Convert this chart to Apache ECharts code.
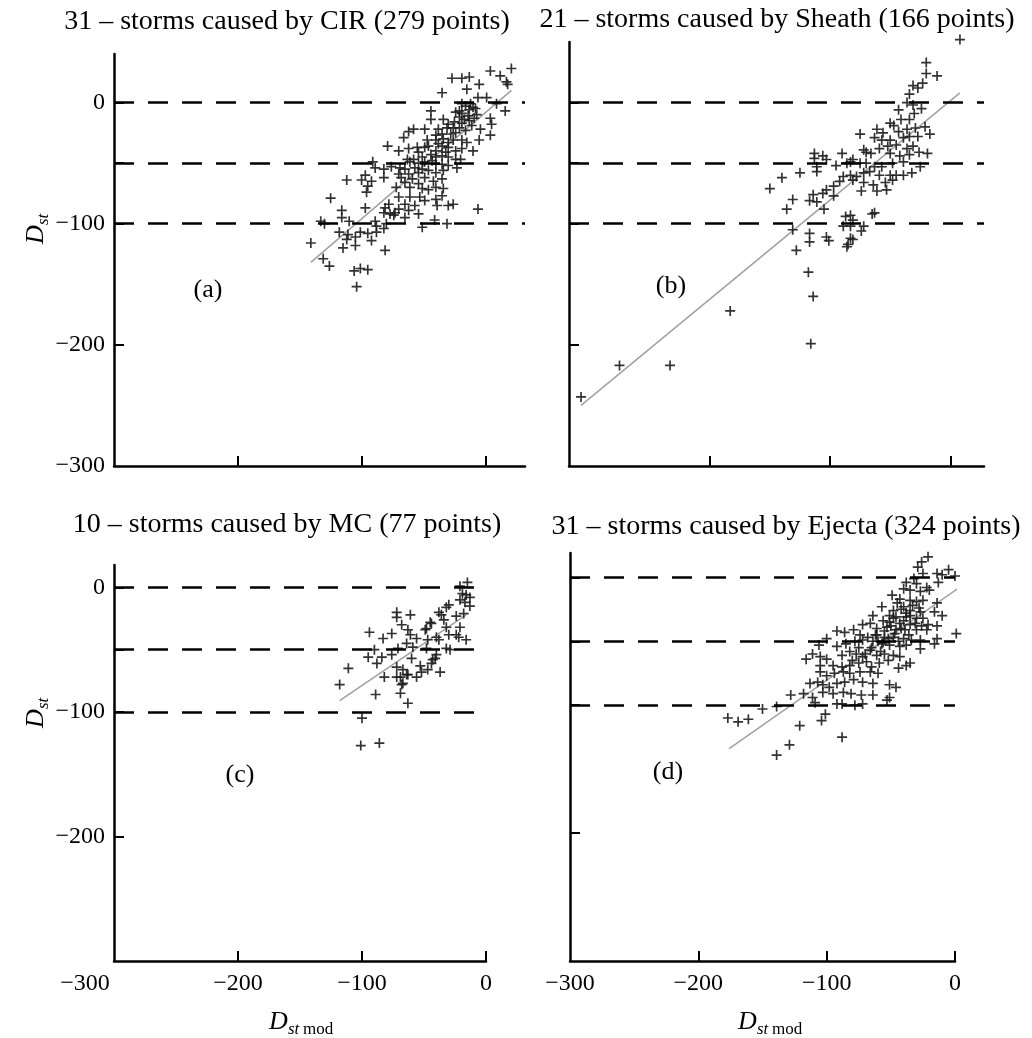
<!DOCTYPE html>
<html><head><meta charset="utf-8">
<script src="https://cdn.jsdelivr.net/npm/echarts@6/dist/echarts.min.js"></script>
<style>html,body{margin:0;padding:0;background:#fff}#c{width:1032px;height:1038px}</style>
</head><body><div id="c"></div>
<script>
// ---------- data ----------
const panelTitles = [
  '31 \u2013 storms caused by CIR (279 points)',
  '21 \u2013 storms caused by Sheath (166 points)',
  '10 \u2013 storms caused by MC (77 points)',
  '31 \u2013 storms caused by Ejecta (324 points)'
];
const panelLetters = ['(a)', '(b)', '(c)', '(d)'];
const xTickLabels = [-300, -200, -100, 0];
const xTickValues = [-200, -100, 0];
const yTickLabels = [0, -100, -200, -300];
const yTickValues = [0, -50, -100, -200];
const refLevels = [0, -50, -100];

const cirPoints = [
[21,28],[4,26],[12,22],[-27,20],[-19,20],[-13,21],[17,17],[18,15],[-5,15],[-15,11],[-35,8],
[-6,4],[1,4],[9,-1],[-12,-1],[-19,-1],[-16,-3],[-10,-4],[-8,-5],[-13,-6],[-21,-7],[16,-7],[-44,-7],[-24,-8],[-19,-9],[-14,-11],[-7,-10],
[-34,-14],[-44,-14],[-21,-12],[-17,-14],[-13,-15],[-9,-13],[4,-13],[-25,-16],[-19,-17],[-30,-18],[-26,-21],[-31,-21],[-11,-19],[-4,-22],[5,-18],[-38,-22],[-49,-22],[-58,-22],[-62,-24],[-21,-21],[-16,-23],[-24,-25],[-28,-26],[-35,-26],[-40,-27],
[4,-27],[-66,-29],[-34,-30],[-40,-31],[-47,-31],[-26,-31],[-19,-31],[-5,-31],[-15,-33],[-30,-33],[-38,-34],[-46,-36],[-35,-36],[-30,-37],[-55,-37],[-62,-38],[-70,-40],[-79,-36],[-49,-37],[-10,-40],[-40,-40],[-32,-41],[-24,-40],[-19,-38],[-54,-41],[-44,-43],
[-35,-44],[-40,-45],[-51,-45],[-58,-47],[-63,-47],[-30,-45],[-24,-47],[-20,-47],[-43,-48],[-49,-49],[-54,-50],[-61,-49],[-40,-51],[-35,-51],[-30,-52],[-23,-54],[-91,-49],[-89,-54],[-82,-55],[-76,-53],[-69,-54],[-65,-55],[-57,-54],[-51,-55],[-46,-56],[-40,-58],[-34,-56],[-70,-59],[-62,-59],[-54,-58],
[-97,-60],[-112,-64],[-100,-64],[-92,-65],[-95,-69],[-82,-62],[-68,-62],[-59,-63],[-49,-62],[-42,-65],[-35,-63],[-54,-67],[-61,-70],[-65,-66],[-72,-70],[-51,-71],[-46,-72],[-96,-74],[-34,-71],[-40,-70],
[-125,-79],[-70,-78],[-61,-78],[-53,-78],[-35,-77],[-49,-81],[-40,-80],[-78,-84],[-65,-84],[-57,-85],[-81,-87],[-116,-89],[-97,-87],[-39,-85],[-30,-85],[-26,-84],[-6,-88],[-70,-88],[-62,-89],[-54,-92],[-73,-91],[-82,-91],[-77,-92],
[-116,-95],[-74,-93],[-133,-98],[-130,-100],[-110,-98],[-89,-98],[-80,-100],[-65,-95],[-41,-97],[-31,-100],[-51,-103],[-88,-102],
[-118,-107],[-111,-109],[-101,-107],[-95,-108],[-88,-107],[-82,-104],[-105,-111],[-112,-113],[-92,-114],[-141,-116],[-115,-120],[-105,-118],[-81,-122],
[-131,-129],[-126,-135],[-106,-139],[-101,-137],[-95,-138],[-104,-152]
];
const cirFit = [[-141,-132],[21,10]];

const sheathPoints = [
[8,52],[-20,33],[-20,24],[-11,22],[-23,16],[-31,14],[-27,12],[-34,7],[-36,0],[-31,-2],[-24,-5],[-30,-9],[-43,-6],[-41,-14],[-34,-14],
[-50,-17],[-47,-19],[-21,-20],[-29,-21],[-36,-22],[-43,-24],[-61,-22],[-56,-25],[-75,-26],[-17,-26],[-27,-28],[-34,-28],[-39,-29],[-50,-31],[-57,-31],[-63,-29],
[-45,-35],[-52,-36],[-31,-36],[-36,-38],[-59,-38],[-19,-42],[-26,-41],[-34,-43],[-42,-44],[-50,-42],[-72,-39],[-66,-42],[-70,-41],
[-113,-42],[-106,-44],[-90,-42],[-113,-46],[-103,-47],[-81,-47],[-83,-49],[-75,-50],[-70,-50],[-63,-53],[-57,-53],[-48,-50],[-39,-49],[-25,-53],[-111,-53],[-111,-57],[-95,-52],[-86,-50],
[-125,-58],[-140,-62],[-89,-61],[-83,-60],[-78,-61],[-72,-58],[-67,-57],[-59,-60],[-50,-60],[-45,-60],[-32,-58],[-39,-60],[-92,-65],[-81,-64],[-72,-66],[-64,-68],[-54,-66],[-48,-64],
[-150,-71],[-97,-69],[-103,-72],[-74,-73],[-61,-73],[-53,-72],[-106,-75],[-114,-76],[-97,-77],[-117,-81],[-111,-82],[-131,-80],[-136,-88],[-105,-88],
[-83,-93],[-87,-94],[-81,-97],[-65,-92],[-63,-91],[-89,-102],[-83,-102],[-72,-102],[-74,-106],[-131,-105],[-117,-108],[-117,-115],[-103,-111],[-101,-114],[-83,-112],[-81,-113],[-86,-119],[-85,-117],[-128,-122],
[-118,-140],[-114,-160],[-116,-199],[-183,-172],[-233,-217],[-275,-217],[-307,-243]
];
const sheathFit = [[-307,-250],[8,8]];

const mcPoints = [
[-15,4],[-21,1],[-19,-5],[-16,-6],[-13,-8],[-21,-10],[-17,-12],[-13,-15],[-30,-14],[-32,-16],[-38,-20],[-36,-22],[-18,-21],[-24,-23],
[-72,-20],[-72,-24],[-61,-22],[-68,-30],[-45,-28],[-44,-29],[-48,-33],[-49,-34],[-34,-26],[-32,-32],[-21,-32],[-24,-38],[-22,-40],[-16,-42],[-30,-38],[-40,-40],[-38,-42],
[-94,-36],[-76,-37],[-83,-41],[-63,-34],[-61,-38],[-56,-41],[-64,-45],[-47,-42],[-59,-48],[-71,-49],[-90,-50],[-48,-49],[-32,-49],[-29,-50],[-40,-54],[-43,-58],[-44,-61],[-41,-57],
[-95,-56],[-84,-56],[-88,-61],[-76,-54],[-60,-57],[-53,-63],[-47,-66],[-37,-68],[-52,-68],[-72,-64],[-67,-66],[-64,-70],[-69,-72],[-72,-72],[-63,-70],[-56,-72],[-82,-72],[-67,-77],[-68,-78],
[-118,-78],[-111,-65],[-89,-86],[-69,-85],[-63,-93],[-100,-105],[-101,-127],[-86,-125]
];
const mcFit = [[-118,-91],[-16,-22]];

const ejectaPoints = [
[-21,16],[-26,12],[-29,8],[-5,6],[-14,3],[-10,2],[0,1],[-25,3],[-32,-1],[-38,-4],[-30,-5],[-22,-8],[-13,-4],[-20,-10],[-27,-11],[-35,-10],[-40,-9],
[-49,-14],[-43,-17],[-35,-18],[-30,-19],[-25,-18],[-14,-20],[-57,-23],[-48,-26],[-40,-23],[-35,-26],[-27,-27],[-16,-27],[-10,-30],[-51,-30],[-46,-31],[-38,-31],[-30,-32],[-25,-32],
[-64,-30],[-56,-34],[-51,-35],[-43,-36],[-35,-37],[-21,-37],[-14,-38],[-72,-37],[-66,-36],[-61,-40],[-53,-39],[-46,-41],[-39,-41],[-30,-41],[-22,-41],[1,-44],
[-92,-42],[-86,-43],[-79,-41],[-74,-45],[-68,-47],[-61,-45],[-55,-47],[-48,-47],[-40,-48],[-34,-49],[-27,-49],[-14,-48],[-16,-52],
[-100,-48],[-106,-53],[-92,-54],[-85,-52],[-78,-50],[-72,-49],[-64,-50],[-57,-52],[-51,-53],[-43,-54],[-38,-53],[-27,-56],
[-111,-60],[-116,-64],[-105,-62],[-100,-64],[-88,-61],[-82,-58],[-77,-60],[-72,-62],[-66,-57],[-61,-61],[-55,-60],[-48,-61],[-43,-62],[-35,-67],[-38,-69],[-44,-71],
[-105,-69],[-95,-69],[-88,-70],[-82,-69],[-75,-67],[-69,-66],[-65,-70],[-59,-67],[-52,-65],
[-105,-74],[-100,-77],[-94,-75],[-87,-74],[-82,-75],[-74,-74],[-66,-74],[-60,-75],
[-113,-83],[-107,-82],[-103,-84],[-98,-86],[-92,-83],[-86,-82],[-79,-80],[-72,-82],[-64,-83],[-51,-84],[-46,-86],
[-128,-92],[-118,-91],[-111,-94],[-103,-90],[-95,-91],[-87,-90],[-81,-91],[-73,-92],[-64,-92],[-51,-94],
[-150,-103],[-139,-101],[-109,-98],[-92,-99],[-88,-99],[-78,-100],[-72,-99],[-53,-96],
[-177,-110],[-169,-113],[-161,-111],[-101,-107],[-104,-112],[-121,-116],[-88,-125],[-129,-131],[-139,-139],
[-45,-20],[-42,-25],[-38,-28],[-33,-22],[-28,-24],[-50,-38],[-47,-44],[-55,-42],[-60,-50],[-65,-55],[-58,-58],[-52,-48],[-44,-50],[-36,-45],[-31,-36],[-26,-38],[-40,-34],[-35,-30],[-42,-40],[-48,-32],[-70,-60],[-75,-55],[-80,-65],[-62,-45],[-56,-51]
];
const ejectaFit = [[-176,-134],[2,-9]];

// ---------- layout ----------
const FONT = "'Liberation Serif','Times New Roman',serif";
const PLUS = 'path://M5,0H7V5H12V7H7V12H5V7H0V5H5Z';
const minus = v => v < 0 ? '\u2212' + Math.abs(v) : String(v);

const grids = [
  {left:114, top:54, width:411, height:412},
  {left:569, top:42, width:415, height:424},
  {left:114, top:565, width:372, height:396},
  {left:570, top:553, width:385, height:408}
];
const xRanges = [[-300,32],[-317,28],[-300,0],[-300,0]];
const yRanges = [[-300,40],[-300,50],[-300,18],[-300,19]];
const showX = [false,false,true,true];
const yLabelSets = [yTickLabels, null, [0,-100,-200], null];
const pointSets = [cirPoints, sheathPoints, mcPoints, ejectaPoints];
const fitSets = [cirFit, sheathFit, mcFit, ejectaFit];

const xAxes = [], yAxes = [], series = [];
for (let i = 0; i < 4; i++) {
  const shiftMin = (i === 2);
  xAxes.push({
    type:'value', gridIndex:i, min:xRanges[i][0], max:xRanges[i][1],
    axisLine:{show:true,onZero:false,lineStyle:{color:'#000',width:2.5}},
    axisTick:{show:true,inside:true,length:10,lineStyle:{color:'#000',width:2},customValues:xTickValues},
    axisLabel:{show:showX[i], customValues:xTickLabels, margin:11, color:'#000', fontFamily:FONT, fontSize:24,
      formatter: v => (shiftMin && v === -300) ? '{m|' + minus(v) + '}' : minus(v),
      rich:{m:{padding:[0,58,0,0], fontFamily:FONT, fontSize:24, color:'#000'}}},
    splitLine:{show:false}
  });
  yAxes.push({
    type:'value', gridIndex:i, min:yRanges[i][0], max:yRanges[i][1],
    axisLine:{show:true,onZero:false,lineStyle:{color:'#000',width:2.5}},
    axisTick:{show:true,inside:true,length:10,lineStyle:{color:'#000',width:2},customValues:yTickValues},
    axisLabel:{show:!!yLabelSets[i], customValues:yLabelSets[i] || [0], margin:9, color:'#000', fontFamily:FONT, fontSize:24,
      formatter: minus},
    splitLine:{show:false}
  });
  series.push({
    type:'line', xAxisIndex:i, yAxisIndex:i, data:fitSets[i], symbol:'none', z:2,
    lineStyle:{color:'#a0a0a0', width:1.5}, silent:true,
    markLine:{silent:true, symbol:'none', label:{show:false},
      lineStyle:{type:[20,14], color:'#000', width:2.5},
      data: refLevels.map(v => ({yAxis:v}))}
  });
  series.push({
    type:'scatter', xAxisIndex:i, yAxisIndex:i, data:pointSets[i], symbol:PLUS, symbolSize:10,
    itemStyle:{color:'#1c1c1c', opacity:0.9}, clip:false, z:3
  });
}

function txt(x, y, text, size) {
  return {type:'text', x:x, y:y, silent:true,
    style:{text:text, font: size + 'px ' + FONT, fill:'#000',
      textAlign:'center', align:'center', textVerticalAlign:'middle', verticalAlign:'middle'}};
}
function dstName(cx, cy, rotated, withMod) {
  const children = [
    {type:'text', x:-16, y:0, style:{text:'D', font:'italic 26px ' + FONT, fill:'#000', align:'left', textAlign:'left', verticalAlign:'middle', textVerticalAlign:'middle'}},
    {type:'text', x:3, y:8, style:{text:'st', font:'italic 17px ' + FONT, fill:'#000', align:'left', textAlign:'left', verticalAlign:'middle', textVerticalAlign:'middle'}}
  ];
  if (withMod) children.push({type:'text', x:18, y:8, style:{text:'mod', font:'17px ' + FONT, fill:'#000', align:'left', textAlign:'left', verticalAlign:'middle', textVerticalAlign:'middle'}});
  return {type:'group', x:cx, y:cy, rotation: rotated ? Math.PI/2 : 0, children:children, silent:true};
}

const graphics = [
  txt(287, 22, panelTitles[0], 28),
  txt(777, 20, panelTitles[1], 28),
  txt(287, 525, panelTitles[2], 28),
  txt(786, 527, panelTitles[3], 28),
  txt(208, 290, panelLetters[0], 26),
  txt(671, 286, panelLetters[1], 26),
  txt(240, 775, panelLetters[2], 26),
  txt(668, 772, panelLetters[3], 26),
  dstName(36, 228, true, false),
  dstName(36, 712, true, false),
  dstName(285, 1022, false, true),
  dstName(754, 1022, false, true)
];

const chart = echarts.init(document.getElementById('c'), null, {renderer:'canvas'});
chart.setOption({
  animation:false,
  backgroundColor:'#fff',
  grid:grids,
  xAxis:xAxes,
  yAxis:yAxes,
  series:series,
  graphic:{elements:graphics}
});
</script>
</body></html>
